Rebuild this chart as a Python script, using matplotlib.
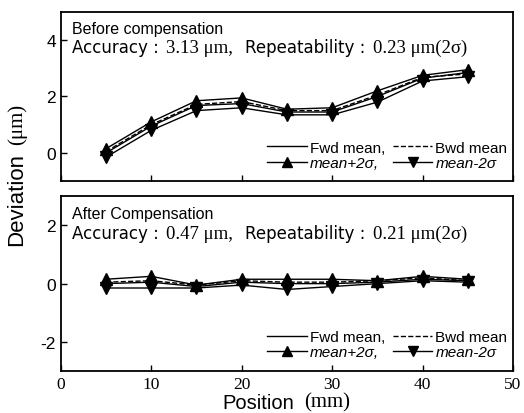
import matplotlib.pyplot as plt
import numpy as np

plt.rcParams['font.family'] = ['Liberation Sans', 'DejaVu Sans']
plt.rcParams['axes.unicode_minus'] = False

pos = [5, 10, 15, 20, 25, 30, 35, 40, 45]

# before compensation
pre_fwd = [0.0, 0.95, 1.68, 1.75, 1.45, 1.45, 2.0, 2.65, 2.85]
pre_bwd = [0.05, 1.0, 1.72, 1.82, 1.5, 1.5, 2.05, 2.68, 2.8]
pre_up = [0.15, 1.1, 1.85, 1.95, 1.55, 1.6, 2.2, 2.75, 2.95]
pre_dn = [-0.15, 0.8, 1.5, 1.6, 1.35, 1.35, 1.8, 2.55, 2.7]

# after compensation
post_fwd = [0.0, 0.05, -0.1, 0.05, 0.0, 0.0, 0.05, 0.15, 0.1]
post_bwd = [0.05, 0.1, -0.05, 0.1, 0.05, 0.05, 0.1, 0.2, 0.1]
post_up = [0.15, 0.25, -0.05, 0.15, 0.15, 0.15, 0.1, 0.25, 0.15]
post_dn = [-0.15, -0.15, -0.15, -0.05, -0.2, -0.1, 0.0, 0.1, 0.05]

fig = plt.figure(figsize=(5.24, 4.14), dpi=100)
ax1 = fig.add_axes([0.116, 0.560, 0.863, 0.409])
ax2 = fig.add_axes([0.116, 0.101, 0.863, 0.423])

SANS = "Liberation Sans"
WIDE = "DejaVu Sans"
SERIF = "Liberation Serif"


def chain(ax, x, y, pieces):
    # write text pieces one after another (mixed fonts)
    fam, size, gap, txt = pieces[0]
    t = ax.text(x, y, txt, transform=ax.transAxes, fontsize=size, family=fam, va="bottom")
    for fam, size, gap, txt in pieces[1:]:
        t = ax.annotate(txt, xy=(1, 0), xycoords=t, xytext=(gap, 0), textcoords="offset points",
                        fontsize=size, family=fam, va="bottom")
    return t


def panel(ax, fwd, bwd, up, dn, ylim, yticks, title, acc, rep, legy):
    h1, = ax.plot(pos, fwd, "k-", lw=1.0, label="Fwd mean,")
    h2, = ax.plot(pos, bwd, "k--", lw=1.0, label="Bwd mean")
    h3, = ax.plot(pos, up, "k-", lw=1.0, marker="^", ms=8.5, label="mean+2\u03c3,")
    h4, = ax.plot(pos, dn, "k-", lw=1.0, marker="v", ms=8.5, label="mean-2\u03c3")
    ax.set_xlim(0, 50)
    ax.set_ylim(*ylim)
    ax.set_yticks(yticks)
    ax.set_xticks([0, 10, 20, 30, 40, 50])
    ax.tick_params(direction="in", length=4, width=1, labelsize=12.5)
    for lab in ax.get_xticklabels():
        lab.set_family(SERIF)
    for s in ax.spines.values():
        s.set_linewidth(1.3)

    ax.text(0.025, 0.945, title, transform=ax.transAxes, fontsize=11.5, va="top")
    chain(ax, 0.025, 0.74, [(WIDE, 12, 0, "Accuracy :"), (SERIF, 13.5, 5, acc + " \u03bcm,"),
                            (WIDE, 12, 9, "Repeatability :"), (SERIF, 13.5, 5, rep + " \u03bcm(2\u03c3)")])

    leg = ax.legend([h1, h3, h2, h4], [h1.get_label(), h3.get_label(), h2.get_label(), h4.get_label()],
                    ncol=2, frameon=False, loc="lower right", bbox_to_anchor=(1.008, legy),
                    fontsize=11, handlelength=2.6, handletextpad=0.2, columnspacing=0.5,
                    labelspacing=0.1, borderaxespad=0.2, markerscale=0.8)
    for i in (1, 3):
        leg.get_texts()[i].set_style("italic")


panel(ax1, pre_fwd, pre_bwd, pre_up, pre_dn, (-1, 5), [0, 2, 4],
      "Before compensation", "3.13", "0.23", 0.01)
panel(ax2, post_fwd, post_bwd, post_up, post_dn, (-3, 3), [-2, 0, 2],
      "After Compensation", "0.47", "0.21", 0.015)

ax1.tick_params(labelbottom=False)

# axis labels: sans word, serif unit
tx = fig.text(0.424, 0.003, "Position", fontsize=14.5, family=SANS, va="bottom")
ax2.annotate("(mm)", xy=(1, 0), xycoords=tx, xytext=(7, 0), textcoords="offset points",
             fontsize=15, family=SERIF, va="bottom", annotation_clip=False)
ty = fig.text(0.012, 0.405, "Deviation", rotation=90, fontsize=16, family=SANS, ha="left", va="bottom")
ax1.annotate("(\u03bcm)", xy=(0, 1), xycoords=ty, xytext=(1, 6), textcoords="offset points",
             rotation=90, fontsize=15, family=SERIF, ha="left", va="bottom", annotation_clip=False)

fig.savefig("out.png", dpi=100)
